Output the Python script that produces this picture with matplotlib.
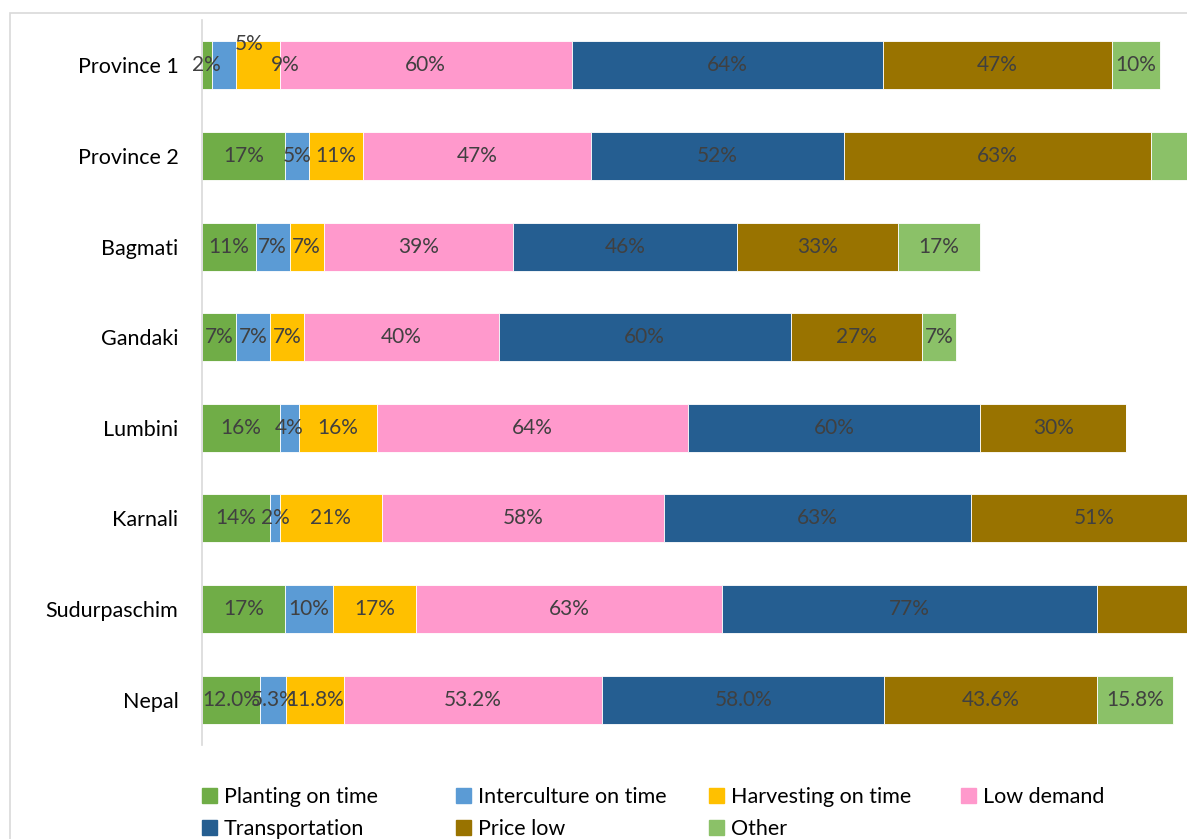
import numpy as np
import matplotlib
matplotlib.use("Agg")
import matplotlib.pyplot as plt
from matplotlib.patches import Patch, Rectangle

plt.rcParams['font.family'] = ['Lato', 'DejaVu Sans']

regions = ['Province 1', 'Province 2', 'Bagmati', 'Gandaki', 'Lumbini',
           'Karnali', 'Sudurpaschim', 'Nepal']
series = ['Planting on time', 'Interculture on time', 'Harvesting on time',
          'Low demand', 'Transportation', 'Price low', 'Other']

planting     = [2, 17, 11, 7, 16, 14, 17, 12.0]
interculture = [5, 5, 7, 7, 4, 2, 10, 5.3]
harvesting   = [9, 11, 7, 7, 16, 21, 17, 11.8]
low_demand   = [60, 47, 39, 40, 64, 58, 63, 53.2]
transport    = [64, 52, 46, 60, 60, 63, 77, 58.0]
price_low    = [47, 63, 33, 27, 30, 51, 40, 43.6]
other        = [10, 14, 17, 7, 0, 9, 10, 15.8]

colors = ['#70AD47', '#5B9BD5', '#FFC000', '#FF99CC', '#255E91', '#997300', '#8BC168']

data = np.array([planting, interculture, harvesting, low_demand, transport, price_low, other])

fig = plt.figure(figsize=(11.87, 8.39), dpi=100)
ax = fig.add_axes([202/1187, 1 - 745/839, 1 - 202/1187, (745 - 20)/839])

# outer chart frame (light gray), runs off the right/bottom edge
fig.add_artist(Rectangle((10/1187, -0.1), 1.2, 1 - 13/839 + 0.1, transform=fig.transFigure,
                         fill=False, edgecolor='#d9d9d9', linewidth=1.2))

xmax = 202.5
y = np.arange(len(regions))
left = np.zeros(len(regions))
for i, vals in enumerate(data):
    ax.barh(y, vals, left=left, height=0.53, color=colors[i], edgecolor='white',
            linewidth=0.6, label=series[i])
    for j, v in enumerate(vals):
        if v == 0:
            continue
        cx = left[j] + v / 2
        cy = y[j]
        if cx > xmax - 3:
            continue
        # labels nudged in the original where segments are too thin
        if j == 0 and i == 1:
            cx, cy = 9.7, cy - 0.24
        elif j == 0 and i == 2:
            cx = 17.1
        txt = f'{v:.1f}%' if j == len(regions) - 1 else f'{v:.0f}%'
        ax.text(cx, cy, txt, ha='center', va='center', fontsize=15, color='#404040')
    left += vals

ax.set_xlim(0, xmax)
ax.set_ylim(len(regions) - 0.5, -0.5)
ax.set_yticks(y)
ax.set_yticklabels(regions, fontsize=15.5, color='black')
ax.tick_params(axis='y', length=0, pad=17)
ax.set_xticks([])
for s in ['top', 'right', 'bottom']:
    ax.spines[s].set_visible(False)
ax.spines['left'].set_color('#d9d9d9')
ax.spines['left'].set_linewidth(1.2)

# legend: 4 fixed-width columns, filled row by row
handles = [Patch(color=c, label=s) for c, s in zip(colors, series)]
col_x = [187, 441, 694, 946]
for k in range(4):
    fig.legend(handles=handles[k::4], loc='upper left',
               bbox_to_anchor=(col_x[k]/1187, 1 - 772/839),
               frameon=False, fontsize=15.5, handlelength=0.7, handleheight=0.7,
               handletextpad=0.3, labelspacing=0.55, borderpad=0.2)

fig.savefig('out.png', dpi=100)
